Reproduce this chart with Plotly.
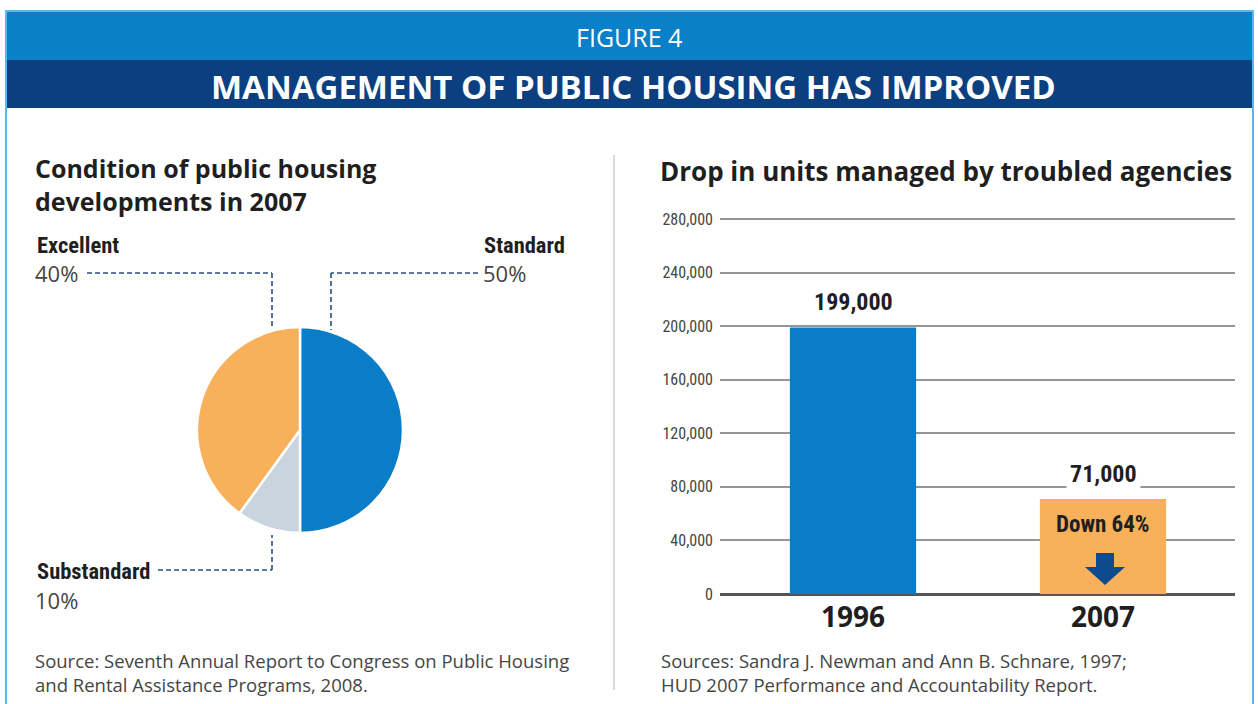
import plotly.graph_objects as go

W, H = 1258, 704

# ---------------- data ----------------
pie_labels = ["Standard", "Substandard", "Excellent"]
pie_values = [50, 10, 40]
pie_colors = ["#0a7dc9", "#c9d4df", "#f9b05a"]

bar_years = ["1996", "2007"]
bar_values = [199000, 71000]
bar_colors = ["#0a7dc9", "#f9b05a"]

y_ticks = [0, 40000, 80000, 120000, 160000, 200000, 240000, 280000]
y_tick_labels = ["0", "40,000", "80,000", "120,000", "160,000", "200,000", "240,000", "280,000"]

header_small = "FIGURE 4"
header_big = "MANAGEMENT OF PUBLIC HOUSING HAS IMPROVED"
left_title = "Condition of public housing<br>developments in 2007"
right_title = "Drop in units managed by troubled agencies"
left_source = "Source: Seventh Annual Report to Congress on Public Housing<br>and Rental Assistance Programs, 2008."
right_source = "Sources: Sandra J. Newman and Ann B. Schnare, 1997;<br>HUD 2007 Performance and Accountability Report."

# ---------------- helpers ----------------
def fx(px):
    return px / W

def fy(py):
    return 1 - py / H

FONT = "Open Sans, Noto Sans, sans-serif"
NARROW = "Liberation Sans Narrow, Roboto Condensed, Open Sans, sans-serif"
DARK = "#1f1f1f"
MID = "#454545"
LEADER = "#284f82"

Y_MAX = 281000          # small headroom so the 280,000 gridline is drawn
Y0_PX, Y280_PX = 594, 219
ytop_px = Y0_PX - (Y0_PX - Y280_PX) * Y_MAX / 280000

fig = go.Figure()

# pie
fig.add_trace(go.Pie(
    labels=pie_labels, values=pie_values,
    marker=dict(colors=pie_colors, line=dict(color="white", width=2.5)),
    sort=False, direction="clockwise", rotation=0,
    textinfo="none", showlegend=False,
    domain=dict(x=[fx(197), fx(403)], y=[fy(533), fy(327)]),
))

# bars
fig.add_trace(go.Bar(
    x=bar_years, y=bar_values, marker=dict(color=bar_colors, line=dict(width=0)),
    width=0.505, showlegend=False, hoverinfo="x+y",
))

fig.update_layout(
    template="none",
    width=W, height=H, autosize=False, showlegend=False,
    margin=dict(l=0, r=0, t=0, b=0, pad=0, autoexpand=False),
    paper_bgcolor="white", plot_bgcolor="rgba(0,0,0,0)",
    font=dict(family=FONT, color=DARK),
    xaxis=dict(
        type="category", domain=[fx(720), fx(1235)], range=[-0.532, 1.528],
        showgrid=False, zeroline=False, showline=False, ticks="", automargin=False,
        ticklabelstandoff=4,
        tickfont=dict(family=FONT, size=28, color=DARK, weight="bold"),
        fixedrange=True,
    ),
    yaxis=dict(
        domain=[fy(Y0_PX), fy(ytop_px)], range=[0, Y_MAX], automargin=False,
        tickvals=y_ticks, ticktext=y_tick_labels,
        showgrid=True, gridcolor="#959595", gridwidth=1.5,
        zeroline=True, zerolinecolor="#555555", zerolinewidth=3,
        showline=False, ticks="", ticklabelstandoff=6,
        tickfont=dict(family=NARROW, size=16, color=MID),
        fixedrange=True,
    ),
)

shapes = []
# header bands & frame
shapes.append(dict(type="rect", xref="paper", yref="paper",
                   x0=fx(6), x1=fx(1253), y0=fy(60), y1=fy(11),
                   fillcolor="#0a80c8", line=dict(width=0), layer="below"))
shapes.append(dict(type="rect", xref="paper", yref="paper",
                   x0=fx(6), x1=fx(1253), y0=fy(108), y1=fy(60),
                   fillcolor="#0b3f80", line=dict(width=0), layer="below"))
shapes.append(dict(type="rect", xref="paper", yref="paper",
                   x0=fx(6), x1=fx(1253), y0=fy(712), y1=fy(11),
                   fillcolor="rgba(0,0,0,0)", line=dict(color="#5ab9ea", width=2), layer="above"))
# divider
shapes.append(dict(type="line", xref="paper", yref="paper",
                   x0=fx(614), x1=fx(614), y0=fy(155), y1=fy(690),
                   line=dict(color="#cccccc", width=1.5)))

# leader lines (dashed)
def leader(points):
    for (xa, ya), (xb, yb) in zip(points[:-1], points[1:]):
        shapes.append(dict(type="line", xref="paper", yref="paper",
                           x0=fx(xa), y0=fy(ya), x1=fx(xb), y1=fy(yb),
                           line=dict(color=LEADER, width=1.6, dash="5px,3px")))

leader([(87, 273), (272, 273), (272, 328)])
leader([(478, 273), (331, 273), (331, 330)])
leader([(158, 570), (272, 570), (272, 535)])

# down arrow inside 2007 bar
ax = 1105
arrow_path = (f"M {fx(ax-9)},{fy(553)} L {fx(ax+9)},{fy(553)} L {fx(ax+9)},{fy(567)} "
              f"L {fx(ax+20)},{fy(567)} L {fx(ax)},{fy(585)} L {fx(ax-20)},{fy(567)} "
              f"L {fx(ax-9)},{fy(567)} Z")
shapes.append(dict(type="path", xref="paper", yref="paper", path=arrow_path,
                   fillcolor="#0d4a8e", line=dict(width=0)))

fig.update_layout(shapes=shapes)

ann = []
def text(x, y, s, size, color=DARK, bold=False, xanchor="left", yanchor="middle", family=FONT, align="left"):
    ann.append(dict(x=fx(x), y=fy(y), xref="paper", yref="paper", text=s, showarrow=False,
                    xanchor=xanchor, yanchor=yanchor, align=align,
                    font=dict(family=family, size=size, color=color, weight="bold" if bold else "normal")))

# header
text(629, 37, header_small, 25, color="white", xanchor="center")
text(634, 86, header_big, 33, color="white", bold=True, xanchor="center")

# titles
text(33, 185, left_title, 25, bold=True)
text(658, 171, right_title, 26, bold=True)

# pie labels
text(35, 245, pie_labels[2], 22.5, bold=True, family=NARROW)
text(33, 273, f"{pie_values[2]}%", 22, color=MID)
text(567, 245, pie_labels[0], 22.5, bold=True, xanchor="right", family=NARROW)
text(481, 273, f"{pie_values[0]}%", 22, color=MID)
text(35, 571, pie_labels[1], 22.5, bold=True, family=NARROW)
text(33, 600, f"{pie_values[1]}%", 22, color=MID)

# bar value labels (category index positions)
for i, v in enumerate(bar_values):
    ann.append(dict(x=i, y=v, xref="x", yref="y", text=f"{v:,}", showarrow=False,
                    xanchor="center", yanchor="bottom", yshift=7, bgcolor="white",
                    borderpad=3,
                    font=dict(family=NARROW, size=24, color=DARK, weight="bold")))

drop = round((1 - bar_values[1] / bar_values[0]) * 100)
ann.append(dict(x=1, y=bar_values[1], xref="x", yref="y", text=f"Down {drop}%",
                showarrow=False, xanchor="center", yanchor="top", yshift=-10,
                font=dict(family=NARROW, size=23, color=DARK, weight="bold")))

# sources
ann.append(dict(x=fx(33), y=fy(646), xref="paper", yref="paper", text=left_source, showarrow=False,
                xanchor="left", yanchor="top", align="left",
                font=dict(family=FONT, size=18.5, color=MID)))
ann.append(dict(x=fx(659), y=fy(646), xref="paper", yref="paper", text=right_source, showarrow=False,
                xanchor="left", yanchor="top", align="left",
                font=dict(family=FONT, size=18.5, color=MID)))

fig.update_layout(annotations=ann)

fig.write_html(
    "out.html",
    config={"displayModeBar": False, "responsive": False},
    post_script="document.body.style.margin='0';document.body.style.overflow='hidden';",
)
